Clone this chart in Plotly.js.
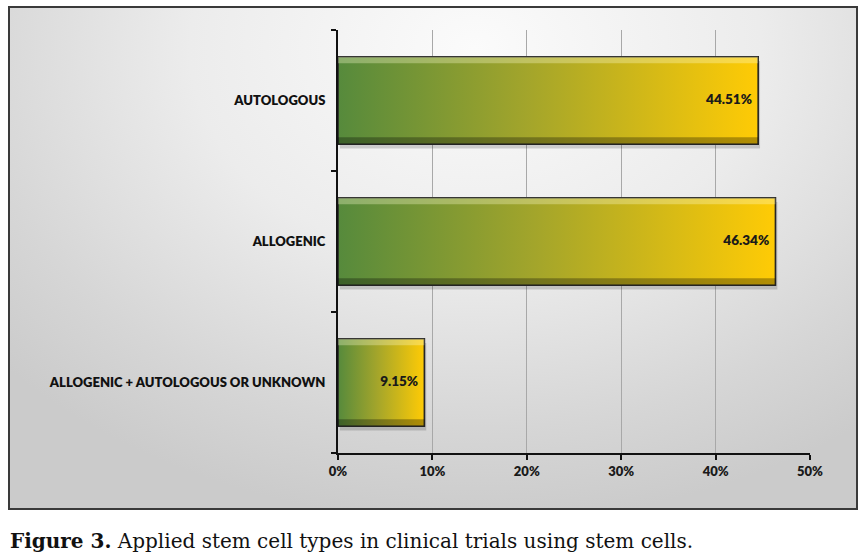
<!DOCTYPE html>
<html>
<head>
<meta charset="utf-8">
<script src="https://cdn.plot.ly/plotly-3.0.1.min.js"></script>
<style>
  html, body { margin: 0; padding: 0; background: #ffffff; }
  #wrap { position: relative; width: 864px; height: 558px; }
  #bg { position: absolute; left: 8px; top: 6px; width: 846px; height: 500px;
        border: 2px solid #3a3a3a;
        background: radial-gradient(ellipse 75% 95% at 55% 8%, #fbfbfb 0%, #ececec 45%, #d6d6d6 80%, #cbcbcb 100%); }
  #chart { position: absolute; left: 0; top: 0; width: 864px; height: 558px; }
</style>
</head>
<body>
<div id="wrap">
  <div id="bg"></div>
  <div id="chart"></div>
</div>
<script>
// ---- data ----
const categories = ["AUTOLOGOUS", "ALLOGENIC", "ALLOGENIC + AUTOLOGOUS OR UNKNOWN"];
const values = [44.51, 46.34, 9.15];
const valueLabels = ["44.51%", "46.34%", "9.15%"];
const xTickVals = [0, 10, 20, 30, 40, 50];
const xTickText = ["0%", "10%", "20%", "30%", "40%", "50%"];
const captionBold = "Figure 3.";
const captionText = " Applied stem cell types in clinical trials using stem cells.";

// ---- styling ----
const halfW = 0.31;
const gradScale = [[0, "#568a3c"], [0.45, "#a3a52b"], [1, "#ffcb05"]];
const labelFont = "Lato, 'Open Sans', sans-serif";

const traces = [];
categories.forEach((c, i) => {
  const v = values[i];
  // drop shadow
  traces.push({
    type: "scatter", mode: "lines", hoverinfo: "skip", showlegend: false,
    x: [0.2, v + 0.2, v + 0.2, 0.2, 0.2],
    y: [i - halfW + 0.03, i - halfW + 0.03, i + halfW + 0.03, i + halfW + 0.03, i - halfW + 0.03],
    fill: "toself", fillcolor: "rgba(0,0,0,0.16)", line: {width: 0}
  });
  // main gradient bar
  traces.push({
    type: "scatter", mode: "lines", hoverinfo: "skip", showlegend: false,
    x: [0, v, v, 0, 0],
    y: [i - halfW, i - halfW, i + halfW, i + halfW, i - halfW],
    fill: "toself",
    fillgradient: {type: "horizontal", colorscale: gradScale},
    line: {color: "#262626", width: 1.6}
  });
  // top bevel highlight
  traces.push({
    type: "scatter", mode: "lines", hoverinfo: "skip", showlegend: false,
    x: [0, v, v, 0, 0],
    y: [i - halfW, i - halfW, i - halfW + 0.045, i - halfW + 0.045, i - halfW],
    fill: "toself", fillcolor: "rgba(255,255,210,0.32)", line: {width: 0}
  });
  // bottom bevel shadow
  traces.push({
    type: "scatter", mode: "lines", hoverinfo: "skip", showlegend: false,
    x: [0, v, v, 0, 0],
    y: [i + halfW - 0.05, i + halfW - 0.05, i + halfW, i + halfW, i + halfW - 0.05],
    fill: "toself", fillcolor: "rgba(0,0,0,0.30)", line: {width: 0}
  });
});
// value labels
traces.push({
  type: "scatter", mode: "text", hoverinfo: "skip", showlegend: false,
  x: values, y: categories.map((c, i) => i),
  text: valueLabels.map(t => t + "  "),
  textposition: "middle left",
  textfont: {family: labelFont, size: 13.5, color: "#1a1a1a", weight: 800}
});

const layout = {
  width: 864, height: 558,
  margin: {l: 338, r: 54, t: 30, b: 105},
  paper_bgcolor: "rgba(0,0,0,0)",
  plot_bgcolor: "rgba(0,0,0,0)",
  showlegend: false,
  xaxis: {
    range: [0, 50], tickvals: xTickVals, ticktext: xTickText,
    showgrid: true, gridcolor: "#a8a8a8", gridwidth: 1,
    zeroline: false, showline: true, linecolor: "#111", linewidth: 2,
    ticks: "outside", ticklen: 5, tickcolor: "#111", tickwidth: 2,
    tickfont: {family: labelFont, size: 13, color: "#1a1a1a", weight: 800},
    fixedrange: true
  },
  yaxis: {
    range: [2.5, -0.5], tickvals: [0, 1, 2], ticktext: categories,
    showgrid: false, zeroline: false, showline: true, linecolor: "#111", linewidth: 2,
    ticks: "", ticklen: 0,
    minor: {tickvals: [-0.5, 0.5, 1.5, 2.5], ticks: "outside", ticklen: 5, tickcolor: "#111", tickwidth: 2, showgrid: false},
    tickfont: {family: labelFont, size: 13, color: "#111", weight: 800},
    ticklabelstandoff: 8,
    fixedrange: true
  },
  annotations: [{
    xref: "paper", yref: "paper", x: -0.699, y: -0.208, xanchor: "left", yanchor: "middle",
    showarrow: false,
    text: "<b>" + captionBold + "</b>" + captionText,
    font: {family: "'DejaVu Serif', serif", size: 20, color: "#111"}
  }]
};

Plotly.newPlot("chart", traces, layout, {displayModeBar: false, staticPlot: true});
</script>
</body>
</html>
